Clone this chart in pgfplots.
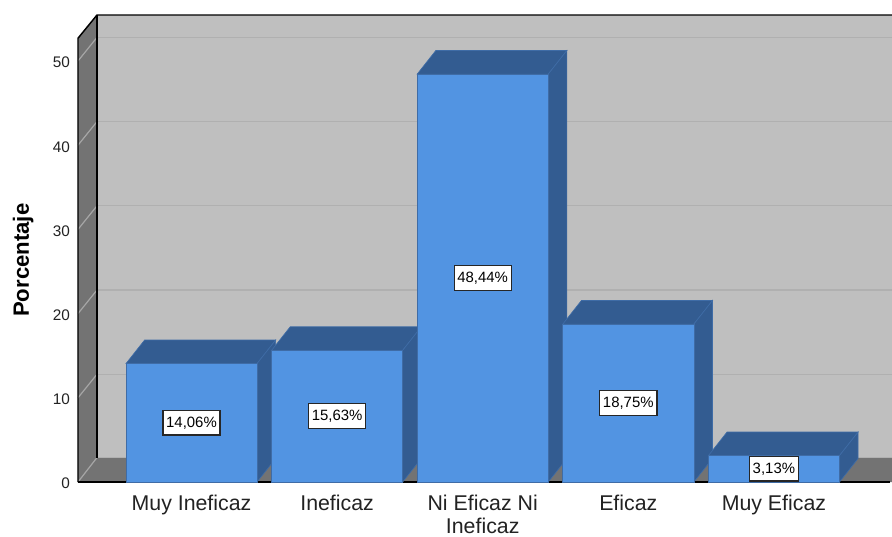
\documentclass[border=0pt]{standalone}
\usepackage{fontspec}
\setmainfont{Liberation Sans}
\usepackage{pgfplots}
\pgfplotsset{compat=1.18}
\definecolor{wallback}{HTML}{BFBFBF}
\definecolor{wallside}{HTML}{737373}
\definecolor{gridback}{HTML}{B0B0B0}
\definecolor{gridside}{HTML}{A6A6A6}
\definecolor{barfront}{HTML}{5294E2}
\definecolor{bardark}{HTML}{335C91}
\definecolor{baredge}{HTML}{3F6CA6}
\definecolor{txt}{HTML}{222222}
\tikzset{valbox/.style={draw=black!85,line width=1pt,fill=white,text=black,font=\fontsize{11.2}{12}\selectfont,inner xsep=2.4pt,inner ysep=0pt,minimum height=18.5pt,anchor=center}}
\pgfplotsset{
  topf/.style={fill=bardark,draw=baredge,line width=0.5pt},
  frontf/.style={ybar,bar shift=0pt,bar width=0.9,fill=barfront,draw=baredge,line width=0.5pt},
  gb/.style={color=gridback,line width=1pt},
  gs/.style={color=gridside,line width=0.9pt},
}
\begin{document}
\begin{tikzpicture}
\path[use as bounding box] (-58.5pt,-40.5pt) rectangle (610.5pt,361.5pt);
\begin{axis}[
  at={(0pt,0pt)},anchor=south west,
  scale only axis,width=610.5pt,height=350.25pt,
  xmin=-0.7795,xmax=4.811,ymin=0,ymax=55.46,
  clip=false,
  axis y line*=left,axis x line*=bottom,
  axis line style={draw=none,-},
  major tick length=0pt,
  ytick={0,10,20,30,40,50},
  xtick={0,1,2,3,4},
  xticklabels={Muy Ineficaz,Ineficaz,{Ni Eficaz Ni\\Ineficaz},Eficaz,Muy Eficaz},
  /pgf/number format/assume math mode=true,
  yticklabel style={font=\fontsize{11.5}{13}\selectfont,text=txt,xshift=-2.5pt,yshift=-1.2pt},
  xticklabel style={font=\fontsize{16}{17}\selectfont,text=txt,align=center,anchor=north,inner ysep=0pt,yshift=-9.8pt},
  ylabel={Porcentaje},
  ylabel style={at={(axis description cs:-0.0675,0.475)},anchor=center,font=\fontsize{16.6}{18}\selectfont\bfseries,text=black},
]
% walls and floor
\addplot[fill=wallside,draw=none] coordinates {(-0.7795,0)(-0.7795,52.7)(-0.649,55.46)(-0.649,2.9)} -- cycle;
\addplot[fill=wallback,draw=none] coordinates {(-0.649,2.9)(-0.649,55.46)(4.811,55.46)(4.811,2.9)} -- cycle;
\addplot[fill=wallside,draw=none] coordinates {(-0.7795,0)(-0.649,2.9)(4.811,2.9)(4.811,0)} -- cycle;
% grid
\addplot[gb] coordinates {(-0.649,12.8)(4.811,12.8)};
\addplot[gb] coordinates {(-0.649,22.8)(4.811,22.8)};
\addplot[gb] coordinates {(-0.649,32.8)(4.811,32.8)};
\addplot[gb] coordinates {(-0.649,42.8)(4.811,42.8)};
\addplot[gb] coordinates {(-0.649,52.8)(4.811,52.8)};
\addplot[gs] coordinates {(-0.7795,0)(-0.649,2.9)};
\addplot[gs] coordinates {(-0.7795,10)(-0.649,12.8)};
\addplot[gs] coordinates {(-0.7795,20)(-0.649,22.8)};
\addplot[gs] coordinates {(-0.7795,30)(-0.649,32.8)};
\addplot[gs] coordinates {(-0.7795,40)(-0.649,42.8)};
\addplot[gs] coordinates {(-0.7795,50)(-0.649,52.8)};
% frame
\addplot[gridback,line width=0.8pt] coordinates {(-0.649,2.9)(4.811,2.9)};
\addplot[black,line width=1.1pt] coordinates {(-0.7795,0)(-0.7795,52.7)(-0.649,55.46)(4.811,55.46)};
\addplot[black,line width=1.1pt] coordinates {(-0.649,55.46)(-0.649,2.9)};
\addplot[black,line width=1.3pt] coordinates {(-0.7795,0)(4.80,0)};
% bar 1
\addplot[topf] coordinates {(-0.45,14.06)(-0.322,16.86)(0.578,16.86)(0.45,14.06)} -- cycle;
\addplot[topf] coordinates {(0.45,0)(0.578,2.8)(0.578,16.86)(0.45,14.06)} -- cycle;
\addplot[frontf] coordinates {(0,14.06)};
% bar 2
\addplot[topf] coordinates {(0.55,15.63)(0.678,18.43)(1.578,18.43)(1.45,15.63)} -- cycle;
\addplot[topf] coordinates {(1.45,0)(1.578,2.8)(1.578,18.43)(1.45,15.63)} -- cycle;
\addplot[frontf] coordinates {(1,15.63)};
% bar 3
\addplot[topf] coordinates {(1.55,48.44)(1.678,51.24)(2.578,51.24)(2.45,48.44)} -- cycle;
\addplot[topf] coordinates {(2.45,0)(2.578,2.8)(2.578,51.24)(2.45,48.44)} -- cycle;
\addplot[frontf] coordinates {(2,48.44)};
% bar 4
\addplot[topf] coordinates {(2.55,18.75)(2.678,21.55)(3.578,21.55)(3.45,18.75)} -- cycle;
\addplot[topf] coordinates {(3.45,0)(3.578,2.8)(3.578,21.55)(3.45,18.75)} -- cycle;
\addplot[frontf] coordinates {(3,18.75)};
% bar 5
\addplot[topf] coordinates {(3.55,3.13)(3.678,5.93)(4.578,5.93)(4.45,3.13)} -- cycle;
\addplot[topf] coordinates {(4.45,0)(4.578,2.8)(4.578,5.93)(4.45,3.13)} -- cycle;
\addplot[frontf] coordinates {(4,3.13)};
% value labels
\node[valbox] at (axis cs:0,7.03) {14,06\%};
\node[valbox] at (axis cs:1,7.82) {15,63\%};
\node[valbox] at (axis cs:2,24.22) {48,44\%};
\node[valbox] at (axis cs:3,9.38) {18,75\%};
\node[valbox] at (axis cs:4,1.57) {3,13\%};
\end{axis}
\end{tikzpicture}
\end{document}
